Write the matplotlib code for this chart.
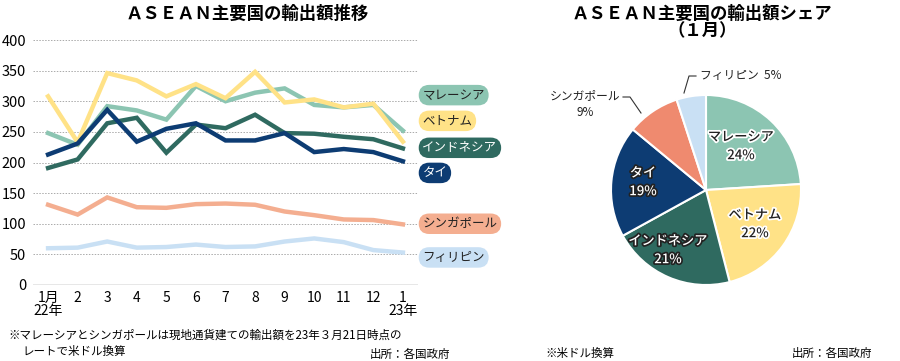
import matplotlib
matplotlib.use("Agg")
import matplotlib.pyplot as plt
import matplotlib.patheffects as pe

JP = ['Noto Sans CJK JP', 'DejaVu Sans']
NUM = ['Liberation Sans Narrow', 'Noto Sans CJK JP', 'DejaVu Sans']
plt.rcParams['font.family'] = JP

months = list(range(1, 14))
xticklabels = ['1月\n22年', '2', '3', '4', '5', '6', '7', '8', '9', '10', '11', '12', '1\n23年']

malaysia = [248, 229, 292, 285, 270, 325, 300, 314, 321, 294, 290, 294, 252]
vietnam = [308, 233, 346, 334, 308, 328, 305, 348, 298, 303, 290, 296, 234]
indonesia = [191, 205, 264, 273, 216, 262, 256, 278, 248, 247, 242, 238, 223]
thailand = [213, 231, 286, 234, 255, 264, 236, 236, 248, 217, 222, 217, 202]
singapore = [131, 115, 143, 127, 126, 132, 133, 131, 120, 114, 107, 106, 99]
philippines = [60, 61, 71, 61, 62, 66, 62, 63, 71, 76, 70, 57, 53]

series_names = ['マレーシア', 'ベトナム', 'インドネシア', 'タイ', 'シンガポール', 'フィリピン']
line_colors = ['#8cc5b2', '#ffe287', '#2f6a60', '#0d3c73', '#f4ae90', '#c9e0f4']
label_text_colors = ['#222222', '#222222', 'white', 'white', '#222222', '#222222']
label_y = [310, 268, 224, 183, 100, 45]

pie_names = ['マレーシア', 'ベトナム', 'インドネシア', 'タイ', 'シンガポール', 'フィリピン']
pie_values = [24, 22, 21, 19, 9, 5]
pie_colors = ['#8cc5b2', '#ffe287', '#2f6a60', '#0d3c73', '#ef8a6f', '#c9e0f4']

fig = plt.figure(figsize=(9, 3.61), dpi=100)

# ---------- Line chart ----------
ax = fig.add_axes([33/900, 1-285/361, (418-33)/900, 245/361])
data = [malaysia, vietnam, indonesia, thailand, singapore, philippines]
for i in [5, 4, 0, 1, 2, 3]:
    ax.plot(months, data[i], color=line_colors[i], lw=3.2, solid_joinstyle='miter', zorder=3)
ax.set_xlim(0.49, 13.51)
ax.set_ylim(0, 400)
ax.set_yticks(range(0, 401, 50))
ax.set_yticklabels([str(v) for v in range(0, 401, 50)], family=NUM, fontsize=10.5)
ax.set_xticks(months)
ax.set_xticklabels(xticklabels, family=NUM, fontsize=10, linespacing=0.95)
for v in range(50, 401, 50):
    ax.axhline(v, color='#aaaaaa', lw=0.7, ls=(0, (1.5, 1.5)), zorder=1)
ax.axhline(0, color='#888888', lw=1.0, zorder=1)
for s in ax.spines.values():
    s.set_visible(False)
ax.tick_params(length=0, pad=4)
ax.tick_params(axis='y', pad=5)

# legend labels
for name, c, tc, yv in zip(series_names, line_colors, label_text_colors, label_y):
    ax.text(13.66, yv, name, fontsize=9, color=tc, va='center', ha='left',
            bbox=dict(boxstyle='round,pad=0.3,rounding_size=0.85', fc=c, ec='none'),
            clip_on=False, zorder=5)

fig.text(247/900, 1-14/361, 'ＡＳＥＡＮ主要国の輸出額推移', ha='center', va='center',
         fontsize=12.5, fontweight='bold')
fig.text(8/900, 1-335/361, '※マレーシアとシンガポールは現地通貨建ての輸出額を23年３月21日時点の',
         ha='left', va='center', fontsize=8.3)
fig.text(22/900, 1-351/361, 'レートで米ドル換算', ha='left', va='center', fontsize=8.3)
fig.text(450/900, 1-354/361, '出所：各国政府', ha='right', va='center', fontsize=8.3)

# ---------- Pie chart ----------
cx, cy, r = 706, 190, 95
pax = fig.add_axes([(cx-r)/900, 1-(cy+r)/361, 2*r/900, 2*r/361])
wedges, _ = pax.pie(pie_values, colors=pie_colors, startangle=90, counterclock=False,
                    wedgeprops=dict(edgecolor='white', linewidth=1.5))
pax.set_xlim(-1, 1)
pax.set_ylim(-1, 1)
pax.set_aspect('auto')

stroke_w = [pe.withStroke(linewidth=2.5, foreground='white')]
stroke_d = [pe.withStroke(linewidth=2.5, foreground='#222222')]


def ptxt(px, py, s, fc, eff, size=9.5):
    fig.text(px/900, 1-py/361, s, ha='center', va='center', fontsize=size, color=fc,
             path_effects=eff, linespacing=1.4, fontweight='medium')


ptxt(741, 146, 'マレーシア\n24%', '#222222', stroke_w)
ptxt(755, 224, 'ベトナム\n22%', '#222222', stroke_w)
ptxt(668, 250, 'インドネシア\n21%', 'white', stroke_d)
ptxt(643, 182, 'タイ\n19%', 'white', stroke_d)

fig.text(585/900, 1-104/361, 'シンガポール\n9%', ha='center', va='center', fontsize=8.5,
         color='#222222', linespacing=1.4)
fig.lines.append(plt.Line2D([623/900, 630/900, 641/900], [1-97/361, 1-97/361, 1-113/361],
                            transform=fig.transFigure, color='#333333', lw=0.8))
fig.text(700/900, 1-76/361, 'フィリピン  5%', ha='left', va='center', fontsize=8.5, color='#222222')
fig.lines.append(plt.Line2D([696/900, 689/900, 684/900], [1-76/361, 1-76/361, 1-93/361],
                            transform=fig.transFigure, color='#333333', lw=0.8))

fig.text(702/900, 1-14/361, 'ＡＳＥＡＮ主要国の輸出額シェア', ha='center', va='center',
         fontsize=12.5, fontweight='bold')
fig.text(702/900, 1-31/361, '（１月）', ha='center', va='center', fontsize=12.5, fontweight='bold')

fig.text(545/900, 1-353/361, '※米ドル換算', ha='left', va='center', fontsize=8.3)
fig.text(872/900, 1-353/361, '出所：各国政府', ha='right', va='center', fontsize=8.3)

fig.savefig('out.png', dpi=100)
